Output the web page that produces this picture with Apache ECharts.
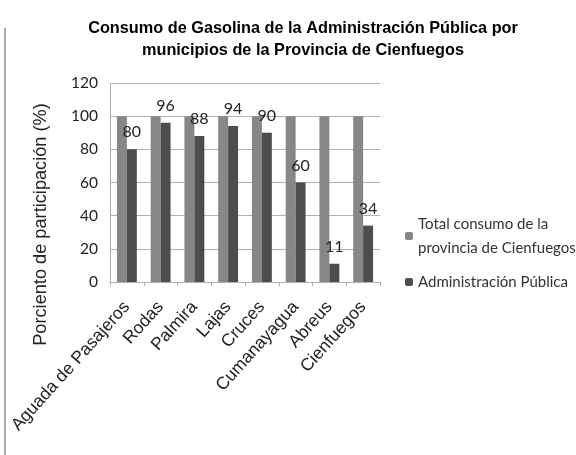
<!DOCTYPE html>
<html>
<head>
<meta charset="utf-8">
<script src="https://cdn.jsdelivr.net/npm/echarts@6/dist/echarts.min.js"></script>
<style>
	html, body { margin: 0; padding: 0; background: #fff; }
	#chart { width: 576px; height: 455px; }
</style>
</head>
<body>
<div id="chart"></div>
<script>
var municipios = ['Aguada de Pasajeros', 'Rodas', 'Palmira', 'Lajas', 'Cruces', 'Cumanayagua', 'Abreus', 'Cienfuegos'];
var totalProvincia = [100, 100, 100, 100, 100, 100, 100, 100];
var adminPublica = [80, 96, 88, 94, 90, 60, 11, 34];
var yTicks = [0, 20, 40, 60, 80, 100, 120];

var myChart = echarts.init(document.getElementById('chart'));
myChart.setOption({
	animation: false,
	title: {
		text: 'Consumo de Gasolina de la Administración Pública por\nmunicipios de la Provincia de Cienfuegos',
		left: 298,
		top: 13,
		textAlign: 'center',
		textStyle: {
			fontFamily: 'Liberation Sans',
			fontSize: 16.3,
			fontWeight: 'bold',
			color: '#000',
			lineHeight: 22
		}
	},
	graphic: [{
		type: 'line',
		shape: { x1: 5, y1: 28, x2: 5, y2: 455 },
		style: { stroke: '#aaaaaa', lineWidth: 2 }
	}],
	legend: {
		orient: 'vertical',
		left: 400,
		top: 207,
		itemWidth: 8,
		itemHeight: 8,
		itemGap: 10,
		itemStyle: { borderWidth: 0 },
		textStyle: {
			fontFamily: 'Lato',
			fontSize: 15,
			color: '#333',
			lineHeight: 24
		},
		formatter: function(name) {
			return name == 'Total consumo de la provincia de Cienfuegos' ? 'Total consumo de la\nprovincia de Cienfuegos' : name;
		},
		data: ['Total consumo de la provincia de Cienfuegos', 'Administración Pública']
	},
	grid: {
		left: 110,
		right: 196,
		top: 83,
		bottom: 173
	},
	xAxis: {
		type: 'category',
		data: municipios,
		axisLine: { lineStyle: { color: '#b0b0b0' } },
		axisTick: { show: true, length: 4, lineStyle: { color: '#b0b0b0' } },
		axisLabel: {
			rotate: 48,
			interval: 0,
			margin: 22,
			fontFamily: 'Liberation Sans',
			fontSize: 17.5,
			color: '#222'
		}
	},
	yAxis: {
		type: 'value',
		min: 0,
		max: 120,
		interval: 20,
		name: 'Porciento de participación (%)',
		nameLocation: 'middle',
		nameRotate: 90,
		nameGap: 60,
		nameTextStyle: {
			fontFamily: 'Liberation Sans',
			fontSize: 18.2,
			color: '#222',
			padding: [0, 84, 0, 0]
		},
		axisLine: { show: true, lineStyle: { color: '#b0b0b0' } },
		axisTick: { show: false },
		axisLabel: {
			fontFamily: 'Lato',
			fontSize: 15.5,
			color: '#222',
			margin: 12,
			formatter: function(v) {
				return yTicks.indexOf(v) > -1 ? String(v) : '';
			}
		},
		splitLine: { lineStyle: { color: '#b0b0b0' } }
	},
	series: [{
		name: 'Total consumo de la provincia de Cienfuegos',
		type: 'bar',
		data: totalProvincia,
		barGap: '0%',
		barCategoryGap: '41%',
		itemStyle: { color: '#878787' }
	}, {
		name: 'Administración Pública',
		type: 'bar',
		data: adminPublica,
		itemStyle: { color: '#4d4d4d' },
		label: {
			show: true,
			position: 'top',
			distance: 9,
			fontFamily: 'Lato',
			fontSize: 16,
			color: '#222'
		}
	}]
});
</script>
</body>
</html>
